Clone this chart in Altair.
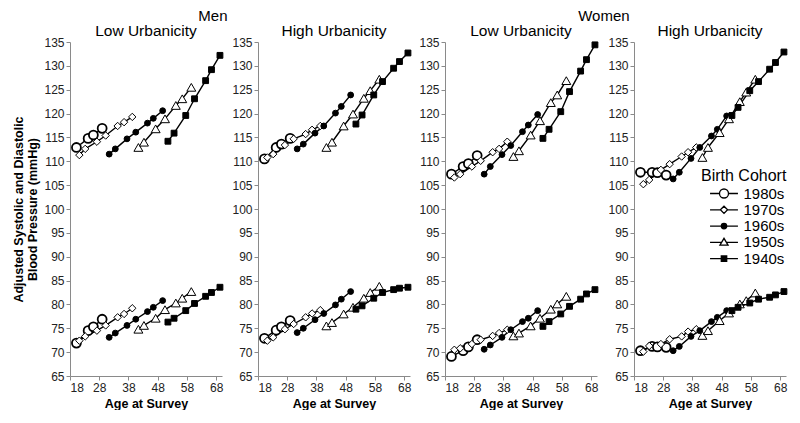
import altair as alt
import pandas as pd

cohorts = ["1980s", "1970s", "1960s", "1950s", "1940s"]

# mean age at each survey wave, per birth cohort
ages = {
    "1980s": [20.2, 24.2, 26.0, 29.0],
    "1970s": [21.2, 23.2, 27.2, 30.2, 34.3, 36.5, 39.3],
    "1960s": [31.4, 33.5, 37.5, 40.5, 44.5, 46.5, 49.7],
    "1950s": [41.4, 43.3, 47.3, 50.5, 54.2, 56.4, 59.5],
    "1940s": [51.5, 53.6, 57.6, 60.6, 64.4, 66.4, 69.3],
}

men_low_sbp = {
    "1980s": [112.9, 114.8, 115.5, 116.9],
    "1970s": [111.3, 112.6, 114.1, 115.4, 117.4, 118.2, 119.3],
    "1960s": [111.5, 112.6, 114.7, 116.1, 118.0, 119.0, 120.6],
    "1950s": [112.9, 114.0, 116.8, 118.9, 121.7, 123.1, 125.5],
    "1940s": [114.2, 115.9, 119.6, 123.1, 126.9, 129.2, 132.2],
}
men_low_dbp = {
    "1980s": [71.9, 74.5, 75.3, 76.9],
    "1970s": [72.4, 73.3, 74.5, 75.6, 77.3, 78.0, 79.2],
    "1960s": [73.1, 74.0, 75.6, 76.9, 78.5, 79.4, 80.8],
    "1950s": [74.8, 75.6, 77.1, 78.9, 80.3, 81.3, 82.7],
    "1940s": [76.3, 77.1, 78.7, 80.2, 81.7, 82.5, 83.6],
}
men_high_sbp = {
    "1980s": [110.5, 112.9, 113.6, 114.8],
    "1970s": [110.8, 111.5, 113.4, 114.7, 115.7, 116.6, 117.4],
    "1960s": [112.6, 113.6, 115.9, 117.4, 120.1, 121.5, 123.9],
    "1950s": [112.9, 114.0, 117.4, 119.9, 123.2, 124.8, 127.2],
    "1940s": [117.8, 119.7, 123.9, 126.7, 129.5, 130.9, 132.7],
}
men_high_dbp = {
    "1980s": [72.9, 74.6, 75.3, 76.6],
    "1970s": [72.4, 73.1, 74.8, 75.9, 77.3, 78.1, 78.8],
    "1960s": [74.1, 75.0, 76.8, 78.1, 79.9, 81.1, 82.7],
    "1950s": [75.5, 76.2, 78.0, 79.4, 81.3, 82.5, 83.8],
    "1940s": [79.0, 79.7, 81.3, 82.5, 83.1, 83.4, 83.6],
}
women_low_sbp = {
    "1980s": [107.3, 108.9, 109.5, 111.2],
    "1970s": [106.6, 107.3, 108.9, 110.1, 111.9, 112.6, 114.1],
    "1960s": [107.3, 108.9, 111.4, 113.3, 116.2, 117.6, 119.8],
    "1950s": [111.0, 112.2, 115.5, 118.5, 122.3, 123.9, 126.9],
    "1940s": [114.8, 116.7, 120.4, 124.6, 128.9, 131.3, 134.4],
}
women_low_dbp = {
    "1980s": [69.1, 70.3, 71.1, 72.6],
    "1970s": [70.5, 70.8, 71.7, 72.6, 73.4, 74.0, 74.7],
    "1960s": [70.6, 71.5, 73.1, 74.7, 76.4, 77.1, 78.7],
    "1950s": [73.4, 74.0, 75.5, 77.1, 79.0, 80.1, 81.7],
    "1940s": [75.4, 76.4, 78.0, 79.6, 81.1, 82.2, 83.1],
}
women_high_sbp = {
    "1980s": [107.7, 107.7, 107.6, 107.1],
    "1970s": [105.2, 106.1, 108.2, 109.4, 111.0, 111.9, 112.9],
    "1960s": [106.3, 107.7, 110.6, 112.9, 115.3, 116.7, 119.5],
    "1950s": [110.8, 112.9, 116.0, 118.9, 122.5, 124.5, 127.2],
    "1940s": [119.6, 121.3, 124.8, 126.7, 129.3, 130.7, 132.9],
}
women_high_dbp = {
    "1980s": [70.3, 71.2, 71.1, 71.0],
    "1970s": [70.1, 71.3, 71.7, 72.7, 73.3, 74.3, 74.8],
    "1960s": [70.3, 71.2, 73.3, 74.5, 76.4, 77.3, 78.7],
    "1950s": [73.5, 74.5, 76.6, 78.2, 80.1, 80.8, 82.4],
    "1940s": [78.7, 79.4, 80.3, 81.1, 81.5, 82.0, 82.7],
}

panels = [
    ("men_low", men_low_sbp, men_low_dbp),
    ("men_high", men_high_sbp, men_high_dbp),
    ("women_low", women_low_sbp, women_low_dbp),
    ("women_high", women_high_sbp, women_high_dbp),
]

rows = []
for key, sbp, dbp in panels:
    for c in cohorts:
        for meas, src in (("SBP", sbp), ("DBP", dbp)):
            for a, v in zip(ages[c], src[c]):
                rows.append({"panel": key, "cohort": c, "measure": meas,
                             "series": c + "_" + meas, "age": a, "value": v})
df = pd.DataFrame(rows)

FONT = "Liberation Sans"

point_style = {
    "1980s": dict(shape="circle", size=80, fill="white", strokeWidth=1.8),
    "1970s": dict(shape="diamond", size=55, fill="white", strokeWidth=1.0),
    "1960s": dict(shape="circle", size=34, fill="black", strokeWidth=1.0),
    "1950s": dict(shape="triangle-up", size=80, fill="white", strokeWidth=1.0),
    "1940s": dict(shape="square", size=34, fill="black", strokeWidth=1.0),
}

legend_paths = [
    "M-3.1,0H-1M1,0H3.1M-1,0A1,1,0,1,1,1,0A1,1,0,1,1,-1,0Z",
    "M-3.1,0H-0.8M0.8,0H3.1M-0.8,0L0,-0.8L0.8,0L0,0.8Z",
    "M-3.1,0H3.1M-0.6,0A0.6,0.6,0,1,1,0.6,0A0.6,0.6,0,1,1,-0.6,0Z",
    "M-3.1,0H-0.54M0.54,0H3.1M-0.9,0.6L0,-0.9L0.9,0.6Z",
    "M-3.1,0H3.1M-0.6,-0.6H0.6V0.6H-0.6Z",
]
legend_fills = ["white", "white", "black", "white", "black"]
legend_strokes = ["black"] * 5

W, H = 152, 334


def make_panel(key, subtitle, first, with_legend):
    d = df[df["panel"] == key]
    base = alt.Chart(d)
    x_axis = alt.Axis(values=[18, 28, 38, 48, 58, 68], title="Age at Survey",
                      labelPadding=2, titlePadding=4)
    if first:
        y_axis = alt.Axis(values=list(range(65, 136, 5)),
                          title=["Adjusted Systolic and Diastolic", "Blood Pressure (mmHg)"],
                          titlePadding=4, titleLineHeight=14)
    else:
        y_axis = alt.Axis(values=list(range(65, 136, 5)), title=None)
    x = alt.X("age:Q", scale=alt.Scale(domain=[18, 70], nice=False, zero=False), axis=x_axis)
    y = alt.Y("value:Q", scale=alt.Scale(domain=[65, 135], nice=False, zero=False), axis=y_axis)

    layers = [base.mark_line(color="black", strokeWidth=1.4).encode(
        x=x, y=y, detail="series:N", order="age:Q")]
    for c in cohorts:
        st = point_style[c]
        layers.append(
            base.transform_filter(alt.datum.cohort == c)
            .mark_point(shape=st["shape"], size=st["size"], filled=True, fill=st["fill"],
                        stroke="black", strokeWidth=st["strokeWidth"], opacity=1)
            .encode(x=x, y=y)
        )
    if with_legend:
        leg = alt.Legend(title="Birth Cohort", orient="none", legendX=631, legendY=126,
                         titleFont=FONT, titleFontSize=16, titleFontWeight="normal",
                         titleColor="black", labelFont=FONT, labelFontSize=15,
                         labelColor="black", symbolSize=81, symbolStrokeColor="black",
                         symbolStrokeWidth=1.3, symbolOpacity=1, symbolOffset=15.5,
                         labelOffset=12, rowPadding=0.3, titlePadding=2, padding=0)
        layers.append(
            base.transform_filter("datum.age < 0")
            .mark_point(filled=True, stroke="black", strokeWidth=1.3, opacity=1)
            .encode(
                x=x, y=y,
                shape=alt.Shape("cohort:N", scale=alt.Scale(domain=cohorts, range=legend_paths), legend=leg),
                fill=alt.Fill("cohort:N", scale=alt.Scale(domain=cohorts, range=legend_fills), legend=leg),
                stroke=alt.Stroke("cohort:N", scale=alt.Scale(domain=cohorts, range=legend_strokes), legend=leg),
            )
        )
    return alt.layer(*layers).properties(
        width=W, height=H,
        title=alt.TitleParams(subtitle, font=FONT, fontSize=15.5, fontWeight="normal",
                              color="black", anchor="middle", offset=-3, frame="group"),
    )


p1 = make_panel("men_low", "Low Urbanicity", True, False)
p2 = make_panel("men_high", "High Urbanicity", False, False)
p3 = make_panel("women_low", "Low Urbanicity", False, False)
p4 = make_panel("women_high", "High Urbanicity", False, True)

men = alt.hconcat(p1, p2, spacing=6,
                  title=alt.TitleParams("Men", font=FONT, fontSize=15, fontWeight="normal",
                                        color="black", anchor="middle", offset=0))
women = alt.hconcat(p3, p4, spacing=7,
                    title=alt.TitleParams("Women", font=FONT, fontSize=15, fontWeight="normal",
                                          color="black", anchor="middle", offset=0))

chart = (
    alt.hconcat(men, women, spacing=5)
    .properties(padding={"left": 4, "top": 0, "right": 0, "bottom": 0})
    .configure_view(strokeWidth=0)
    .configure_axis(grid=False, domainColor="#8a8a8a", tickColor="#8a8a8a", tickSize=4,
                    labelFont=FONT, labelFontSize=12, labelColor="#222222",
                    titleFont=FONT, titleFontSize=12.5, titleFontWeight="bold",
                    titleColor="black")
)

chart.save("out.html", embed_options={"renderer": "svg", "actions": False})
